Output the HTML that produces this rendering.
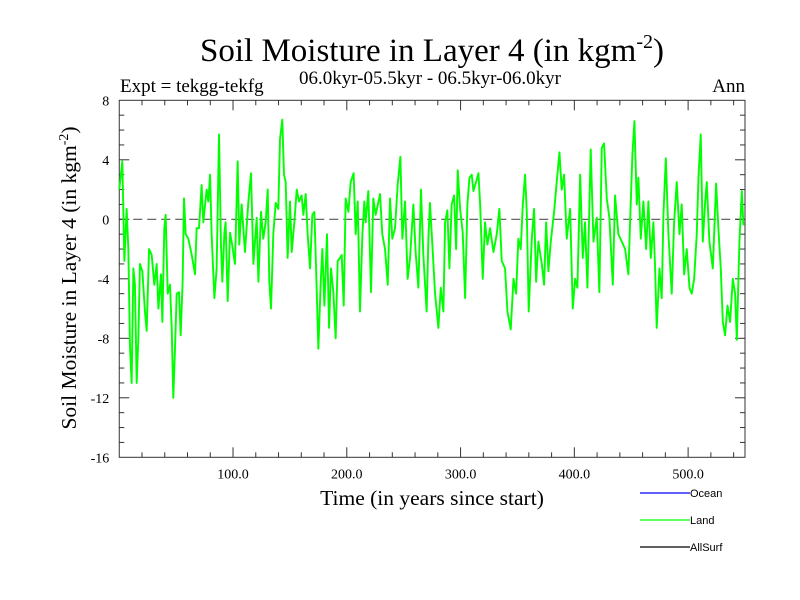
<!DOCTYPE html>
<html><head><meta charset="utf-8"><style>
body{margin:0;background:#fff;}
svg{display:block;font-family:"Liberation Serif",serif;}
</style></head><body>
<svg id="chart" width="800" height="600" viewBox="0 0 800 600">
<rect x="0" y="0" width="800" height="600" fill="#fff"/>
<text x="432" y="61" font-size="33" text-anchor="middle">Soil Moisture in Layer 4 (in kgm<tspan font-size="20" dy="-13">-2</tspan><tspan dy="13">)</tspan></text>
<text x="430" y="84" font-size="19" text-anchor="middle">06.0kyr-05.5kyr - 06.5kyr-06.0kyr</text>
<text x="120" y="92" font-size="19">Expt = tekgg-tekfg</text>
<text x="745" y="92" font-size="19" text-anchor="end">Ann</text>
<text x="432" y="505" font-size="21.5" text-anchor="middle">Time (in years since start)</text>
<text transform="translate(76,278) rotate(-90)" font-size="21.5" text-anchor="middle">Soil Moisture in Layer 4 (in kgm<tspan font-size="14" dy="-8">-2</tspan><tspan dy="8">)</tspan></text>
<g id="axes"></g>
<g id="series"></g>
<g id="legend" font-family="Liberation Sans, sans-serif" font-size="11">
<line x1="640" y1="493" x2="690" y2="493" stroke="#0000ff" stroke-width="1.2"/>
<text x="690" y="497">Ocean</text>
<line x1="640" y1="520" x2="690" y2="520" stroke="#00ff00" stroke-width="1.2"/>
<text x="690" y="524">Land</text>
<line x1="640" y1="547" x2="690" y2="547" stroke="#000" stroke-width="1.2"/>
<text x="690" y="551">AllSurf</text>
</g>
</svg>
<script>
const years=[0,2.7,4.5,6.5,8,9.4,10.9,12.4,13.8,15.3,16.8,18.2,20.3,22.6,24.1,26.2,28.5,30.8,32.9,34.4,36.7,37.9,39.6,40.8,42.6,44.6,46.1,47.5,49,50.5,52.5,54,55.7,56.9,58.4,60.7,63.7,66.6,68,70.1,72.4,73.9,76.8,78.3,79.8,81.2,83.6,85.6,87.7,89.4,90.6,92.4,93.5,95.3,97.4,98.8,101.7,104.1,105.5,107.6,110.5,113.5,115.8,117.9,120.8,122.3,124.6,126.6,128.7,130.5,131.9,133.4,135.4,137.5,139.8,141.3,143.3,144.8,146.3,148,150.1,151.6,153.9,156,158,160.3,161.8,163.9,165.6,167.7,169.7,171.5,173,175,177.1,178.5,180.3,182.6,184.4,186.1,188.2,190.2,192,194,195.5,197.3,199,201.4,203.4,206,207.8,209.6,211.6,213.7,215.4,216.6,218.9,221.3,223.3,225.4,229.2,231.2,233.6,236,238,240,242.4,244.7,247.1,248.8,251.2,253.5,255.6,258.5,260.5,262.9,265.2,267.3,270.2,271.7,273.1,275.2,
277.6,280.5,282.6,284.9,286.4,288.4,290.2,292.2,294.3,296.1,297.5,299.6,301.9,304,306,307.8,309.8,311.3,313.6,315.7,317.2,319.5,321.5,323.6,325.9,328.9,331.8,334.1,336.2,339.1,341.2,344.1,346.5,348.8,350.8,352.9,354.7,356.7,358.2,359.9,362.6,364.6,366.4,368.4,371.4,373.4,375.2,377.2,379.3,382.2,384.5,386.9,388.9,391,393.3,396.3,398.6,400.7,402.7,405.1,407.4,409.4,411.5,414.4,416.8,419.7,422,424.1,426.1,428.5,430.8,433.8,435.8,438.7,441.7,444.6,447.5,449,451,452.8,454.9,456.3,458.4,460.7,463.1,465.1,467.2,469.5,471,472.4,474.8,476.8,478.3,480.4,482.7,485.6,487.7,490,492.4,494.4,496.5,498.8,501.2,503.2,505.3,507.6,509.1,511.1,512.9,515,516.4,518.7,521.7,524.6,526.6,528.7,530.5,532.5,534.6,536.9,539.3,541.3,542.8,545.1,547.2,548.6];
const landValues=[2,3.9,-2.8,0.7,-2,-8.5,-11,-3.3,-4.4,-11,-8,-3,-3.5,-6.2,-7.5,-2,-2.4,-4.4,-3,-6,-3.7,-6.9,-0.6,0.3,-5,-4.4,-7.3,-12,-8.7,-5,-4.9,-7.8,-4.2,1.4,-1,-1.3,-2.4,-3.7,-0.6,-0.6,2.3,-0.2,2,1.2,3,-1,-5.3,-3.3,5.7,-1.7,-4.2,-0.9,-0.2,-5.5,-0.9,-1.5,-3,3.9,-1.7,1,-2.2,1.2,3.1,-3,0.1,-4.2,0.5,-1.3,-0.2,2,-4.2,-6,-1,1.1,0.7,5.4,6.7,3,2.5,-2.6,1.2,-2.2,-0.2,2,1.2,1.6,0.3,1.7,-1,-3.3,0.3,0.5,-3.3,-8.7,-4.2,-2,-5.8,-1,-7.3,-3.3,-4.9,-8,-2.8,-2.6,-2.4,-5.8,1.4,0.5,2.5,3.1,-1,1.2,-6.2,-1,1.2,-0.2,1.9,-4.9,1.4,0.3,1.7,-1,-2,-4.4,1.4,-1.3,-0.6,2.3,4.2,-1.3,1.2,-4,-2.6,1,-2.2,-4.6,2,-2.4,-6.2,-1.3,1.1,-1.7,
-5,-7.3,-4.6,-6.2,-0.2,0.6,-3.3,1,1.6,-2,3.3,0.7,-0.9,-5.3,1,2.8,3,1.9,2.5,3.1,1,-4,-0.2,-1.7,-0.6,-2.2,-1,0.7,-2.8,-3.3,-6.2,-7.4,-4,-5,-1.3,-2,1,3,0.5,-6.2,-1.3,0.7,-4.2,-1.5,-3,-4.4,-0.2,-3.5,-1.5,0.5,2.5,4.5,2,3,-1.3,0.7,-6,-4,-4.6,3,-2.6,-0.2,-4.6,4.7,-1.5,0.1,-4.9,4.8,5.1,1.4,0.1,-4.4,1.6,-1,-1.5,-2,-3.7,-0.2,4.3,6.6,1,2.8,-1.3,1.2,-2,1.2,-2.6,-0.2,-3.3,-7.3,-3.3,-5.3,0.3,4.1,-1,-5,-0.2,2.5,-1,1,-3.7,-2,-4.6,-5,-4,-1,2.8,5.7,-1.5,1.2,2.5,-1.5,-3.3,2.4,-0.6,-3.3,-6.9,-7.8,-5.8,-6.9,-4,-5,-8.1,-1.5,1.9,-0.4];
const xTickValues=[100,200,300,400,500];
const xTickLabels=["100.0","200.0","300.0","400.0","500.0"];
const yTickValues=[8,4,0,-4,-8,-12,-16];
const yTickLabels=["8","4","0","-4","-8","-12","-16"];

const L=119.25,R=745,T=100.3,B=457.3,XMIN=0,XMAX=550,YMIN=-16,YMAX=8;
const xs=v=>L+(v-XMIN)/(XMAX-XMIN)*(R-L);
const ys=v=>B-(v-YMIN)/(YMAX-YMIN)*(B-T);
const NS='http://www.w3.org/2000/svg';
function mk(tag,attrs,parent){const e=document.createElementNS(NS,tag);for(const k in attrs)e.setAttribute(k,attrs[k]);parent.appendChild(e);return e;}
const axes=document.getElementById('axes'),series=document.getElementById('series');

const z=mk('line',{x1:L,x2:R,y1:ys(0),y2:ys(0),stroke:'#555','stroke-width':1.2,'stroke-dasharray':'9,5'},axes);



let d='';
for(let i=0;i<years.length;i++){d+=(i?'L':'M')+xs(years[i]).toFixed(2)+','+ys(landValues[i]).toFixed(2);}
const p=mk('path',{d:d,fill:'none',stroke:'#00ff00','stroke-width':1.9,'stroke-linejoin':'round'},series);



const fr=mk('rect',{x:L,y:T,width:R-L,height:B-T,fill:'none',stroke:'#333','stroke-width':1},axes);



for(let v=20;v<XMAX;v+=20){
  const len=(v%100===0)?10:5;
  const t1=mk('line',{x1:xs(v),x2:xs(v),y1:B,y2:B-len,stroke:'#333'},axes);
  
  
  const t2=mk('line',{x1:xs(v),x2:xs(v),y1:T,y2:T+len,stroke:'#333'},axes);
  
  
}
xTickValues.forEach((v,i)=>{
  const t=mk('text',{x:xs(v),y:B+21,'font-size':14,'text-anchor':'middle'},axes);
  t.textContent=xTickLabels[i];
  
  
});
for(let v=YMIN+1;v<YMAX;v++){
  const len=(v%4===0)?10:5;
  const t1=mk('line',{x1:L,x2:L+len,y1:ys(v),y2:ys(v),stroke:'#333'},axes);
  
  
  const t2=mk('line',{x1:R,x2:R-len,y1:ys(v),y2:ys(v),stroke:'#333'},axes);
  
  
}
yTickValues.forEach((v,i)=>{
  const t=mk('text',{x:L-10,y:ys(v)+5,'font-size':14,'text-anchor':'end'},axes);
  t.textContent=yTickLabels[i];
  
  
});
</script>
</body></html>
